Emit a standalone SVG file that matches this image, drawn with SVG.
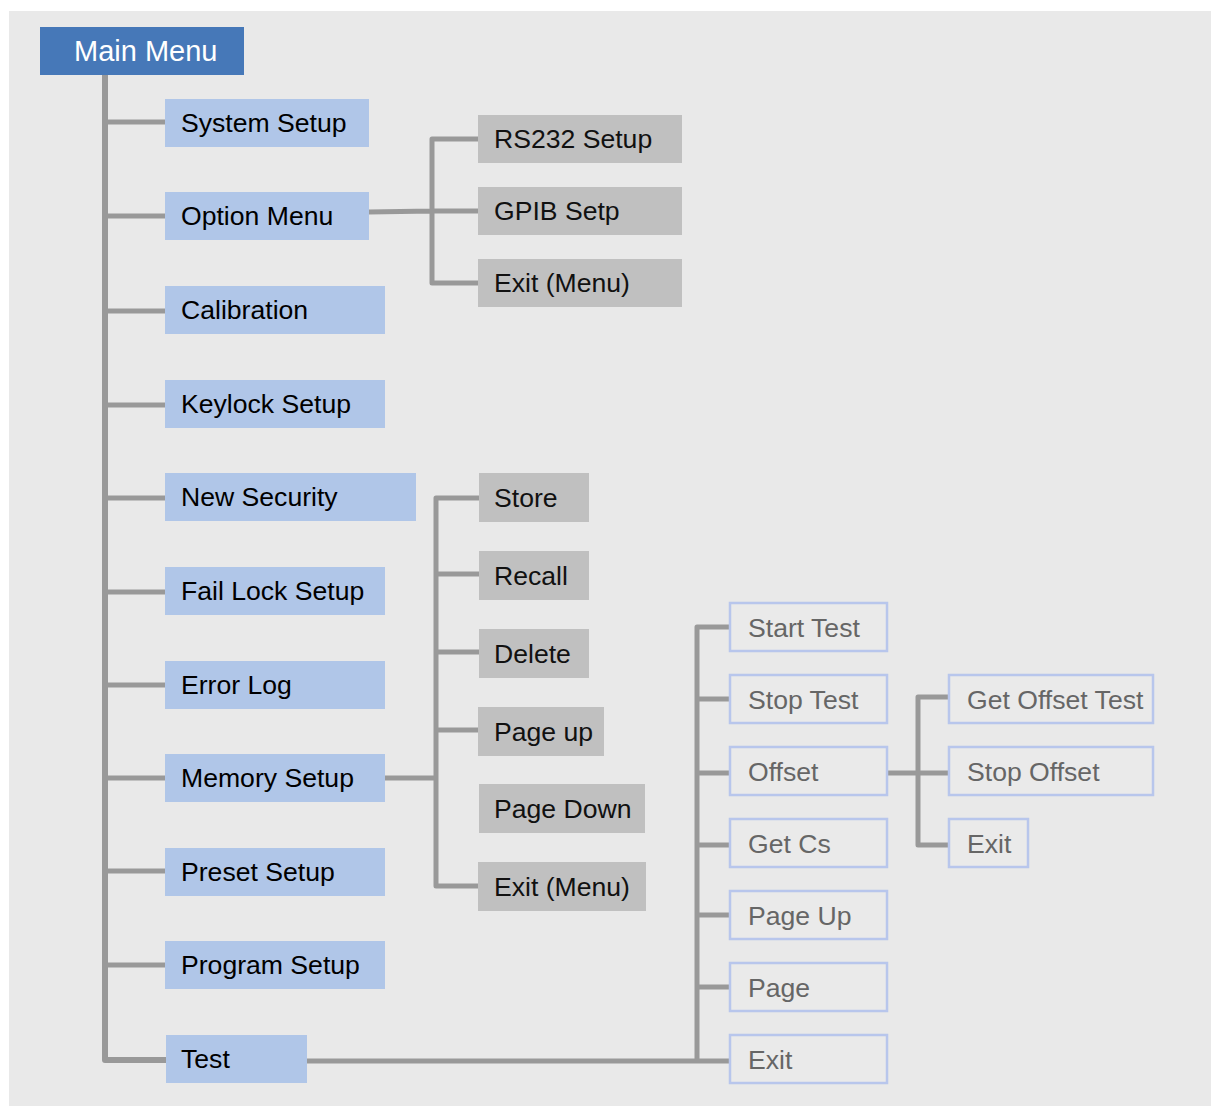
<svg xmlns="http://www.w3.org/2000/svg" width="1211" height="1106" viewBox="0 0 1211 1106">
<style>
text{font-family:"Liberation Sans",Arial,sans-serif;font-size:26.6px}
.blue rect{fill:#B0C6E8}
.blue text{fill:#000}
.grey rect{fill:#C0C0C0}
.grey text{fill:#111}
.out rect{fill:#EAEAEA;stroke:#B8C6EC;stroke-width:2.5}
.out text{fill:#666}
.ln{fill:none;stroke:#999;stroke-width:5;stroke-linejoin:round}
</style>
<rect x="9" y="11" width="1202" height="1095" fill="#E9E9E9"/>
<g id="connectors">
<path class="ln" style="stroke-width:6" d="M105 75V1060H166"/>
<path class="ln" d="M105 122H165M105 216H165M105 311H165M105 405H165M105 498H165M105 592H165M105 685H165M105 778H165M105 871H165M105 965H165"/>
<path class="ln" d="M369 212L432 211H478M478 139H432V283H478"/>
<path class="ln" d="M385 778H436M479 498H436V886H479M436 574H479M436 652H479M436 730H479"/>
<path class="ln" d="M307 1061H730M730 627H697V1061M697 699H730M697 773H730M697 845H730M697 915H730M697 987H730"/>
<path class="ln" d="M887 773H949M949 697H918V845H949"/>
</g>
<g id="main-menu"><rect x="40" y="27" width="204" height="48" fill="#4678B8"/><text x="74" y="61" fill="#fff" style="font-size:29px">Main Menu</text></g>
<g id="system-setup" class="blue"><rect x="165" y="99" width="204" height="48"/><text x="181" y="132">System Setup</text></g>
<g id="option-menu" class="blue"><rect x="165" y="192" width="204" height="48"/><text x="181" y="225">Option Menu</text></g>
<g id="calibration" class="blue"><rect x="165" y="286" width="220" height="48"/><text x="181" y="319">Calibration</text></g>
<g id="keylock-setup" class="blue"><rect x="165" y="380" width="220" height="48"/><text x="181" y="413">Keylock Setup</text></g>
<g id="new-security" class="blue"><rect x="165" y="473" width="251" height="48"/><text x="181" y="506">New Security</text></g>
<g id="fail-lock-setup" class="blue"><rect x="165" y="567" width="220" height="48"/><text x="181" y="600">Fail Lock Setup</text></g>
<g id="error-log" class="blue"><rect x="165" y="661" width="220" height="48"/><text x="181" y="694">Error Log</text></g>
<g id="memory-setup" class="blue"><rect x="165" y="754" width="220" height="48"/><text x="181" y="787">Memory Setup</text></g>
<g id="preset-setup" class="blue"><rect x="165" y="848" width="220" height="48"/><text x="181" y="881">Preset Setup</text></g>
<g id="program-setup" class="blue"><rect x="165" y="941" width="220" height="48"/><text x="181" y="974">Program Setup</text></g>
<g id="test" class="blue"><rect x="166" y="1035" width="141" height="48"/><text x="181" y="1068">Test</text></g>
<g id="rs232-setup" class="grey"><rect x="478" y="115" width="204" height="48"/><text x="494" y="148">RS232 Setup</text></g>
<g id="gpib-setp" class="grey"><rect x="478" y="187" width="204" height="48"/><text x="494" y="220">GPIB Setp</text></g>
<g id="exit-menu-1" class="grey"><rect x="478" y="259" width="204" height="48"/><text x="494" y="292">Exit (Menu)</text></g>
<g id="store" class="grey"><rect x="479" y="473" width="110" height="49"/><text x="494" y="507">Store</text></g>
<g id="recall" class="grey"><rect x="479" y="551" width="110" height="49"/><text x="494" y="585">Recall</text></g>
<g id="delete" class="grey"><rect x="479" y="629" width="110" height="49"/><text x="494" y="663">Delete</text></g>
<g id="page-up" class="grey"><rect x="478" y="707" width="126" height="49"/><text x="494" y="741">Page up</text></g>
<g id="page-down" class="grey"><rect x="479" y="784" width="166" height="49"/><text x="494" y="818">Page Down</text></g>
<g id="exit-menu-2" class="grey"><rect x="478" y="862" width="168" height="49"/><text x="494" y="896">Exit (Menu)</text></g>
<g id="start-test" class="out"><rect x="730" y="603" width="157" height="48"/><text x="748" y="637">Start Test</text></g>
<g id="stop-test" class="out"><rect x="730" y="675" width="157" height="48"/><text x="748" y="709">Stop Test</text></g>
<g id="offset" class="out"><rect x="730" y="747" width="157" height="48"/><text x="748" y="781">Offset</text></g>
<g id="get-cs" class="out"><rect x="730" y="819" width="157" height="48"/><text x="748" y="853">Get Cs</text></g>
<g id="page-up-2" class="out"><rect x="730" y="891" width="157" height="48"/><text x="748" y="925">Page Up</text></g>
<g id="page" class="out"><rect x="730" y="963" width="157" height="48"/><text x="748" y="997">Page</text></g>
<g id="exit-test" class="out"><rect x="730" y="1035" width="157" height="48"/><text x="748" y="1069">Exit</text></g>
<g id="get-offset-test" class="out"><rect x="949" y="675" width="204" height="48"/><text x="967" y="709">Get Offset Test</text></g>
<g id="stop-offset" class="out"><rect x="949" y="747" width="204" height="48"/><text x="967" y="781">Stop Offset</text></g>
<g id="exit-offset" class="out"><rect x="949" y="819" width="79" height="48"/><text x="967" y="853">Exit</text></g>
</svg>
